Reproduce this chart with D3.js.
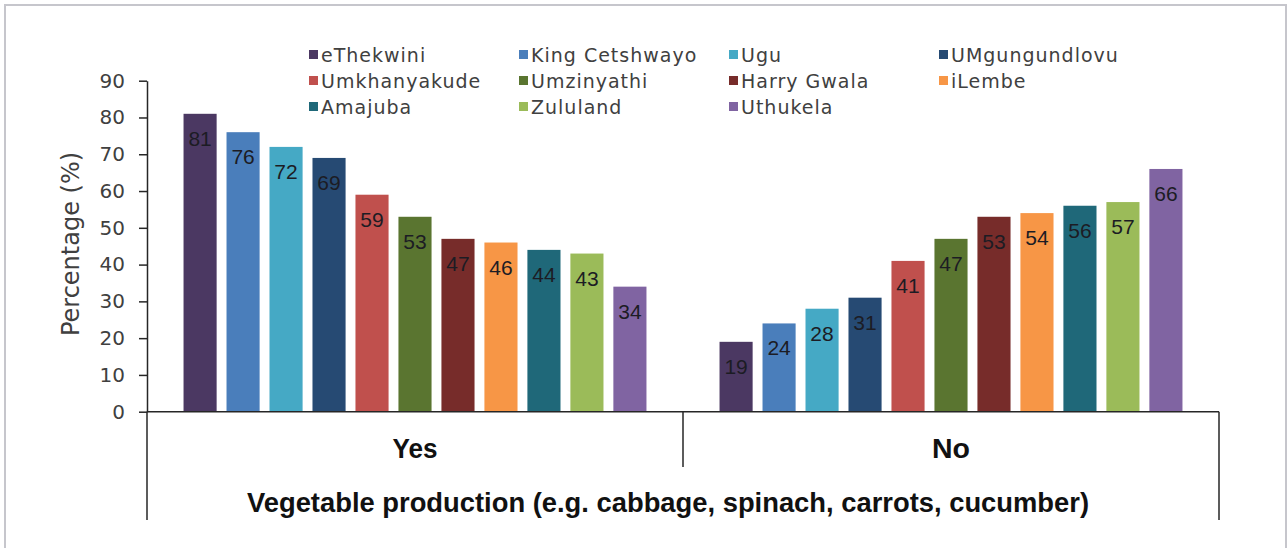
<!DOCTYPE html>
<html>
<head>
<meta charset="utf-8">
<script src="https://cdn.jsdelivr.net/npm/d3@7"></script>
<style>
  body { margin: 0; background: #fff; }
  svg { display: block; }
</style>
</head>
<body>
<div id="chart"></div>
<script>
// data
const groups = ['Yes', 'No'];
const districts = ['eThekwini', 'King Cetshwayo', 'Ugu', 'UMgungundlovu', 'Umkhanyakude', 'Umzinyathi',
  'Harry Gwala', 'iLembe', 'Amajuba', 'Zululand', 'Uthukela'];
const yesValues = [81, 76, 72, 69, 59, 53, 47, 46, 44, 43, 34];
const noValues = [19, 24, 28, 31, 41, 47, 53, 54, 56, 57, 66];
const yTicks = [0, 10, 20, 30, 40, 50, 60, 70, 80, 90];
const colors = ['#4b3862', '#4a7ebb', '#45a9c5', '#264a73', '#c0504d', '#5a7530',
  '#772c2a', '#f79646', '#1f6879', '#9bbb59', '#8064a2'];

const width = 1287, height = 548;
const plot = { left: 147, right: 1219, top: 80.7, bottom: 411.7 };

const svg = d3.select('#chart').append('svg')
  .attr('width', width)
  .attr('height', height);

// outer frame (light grey border, open at the bottom)
svg.append('path')
  .attr('d', `M5,${height} V5 H1286 V${height}`)
  .attr('fill', 'none')
  .attr('stroke', '#c6c6cc')
  .attr('stroke-width', 2);

// scales
const x0 = d3.scaleBand().domain(groups).range([plot.left, plot.right]).padding(0);
const x1 = d3.scaleBand().domain(districts).range([0, x0.bandwidth()])
  .paddingInner(0.23).paddingOuter(0.85);
const y = d3.scaleLinear().domain([0, 90]).range([plot.bottom, plot.top]);
const color = d3.scaleOrdinal().domain(districts).range(colors);

const rows = [];
groups.forEach((g, gi) => {
  const vals = gi === 0 ? yesValues : noValues;
  districts.forEach((d, i) => rows.push({ group: g, district: d, value: vals[i] }));
});

// bars
svg.append('g')
  .selectAll('rect')
  .data(rows)
  .enter()
  .append('rect')
  .attr('x', d => x0(d.group) + x1(d.district))
  .attr('y', d => y(d.value))
  .attr('width', x1.bandwidth())
  .attr('height', d => y(0) - y(d.value))
  .attr('fill', d => color(d.district));

// value labels inside top of bars
svg.append('g')
  .selectAll('text')
  .data(rows)
  .enter()
  .append('text')
  .attr('x', d => x0(d.group) + x1(d.district) + x1.bandwidth() / 2)
  .attr('y', d => y(d.value) + 32)
  .attr('text-anchor', 'middle')
  .attr('font-family', 'Liberation Sans, Arial, sans-serif')
  .attr('font-size', '21px')
  .attr('fill', '#1c1c24')
  .text(d => d.value);

// y axis
const yAxis = svg.append('g')
  .attr('transform', `translate(${plot.left},0)`)
  .call(d3.axisLeft(y).tickValues(yTicks).tickSize(8).tickSizeOuter(0).tickPadding(14));
yAxis.select('.domain').attr('stroke', '#262626').attr('stroke-width', 1.5);
yAxis.selectAll('.tick line').attr('stroke', '#262626').attr('stroke-width', 1.5);
yAxis.selectAll('.tick text')
  .attr('font-family', 'DejaVu Sans, sans-serif')
  .attr('font-size', '20px')
  .attr('fill', '#404040');

// x axis baseline and category dividers
const axisColor = '#262626';
svg.append('line')
  .attr('x1', plot.left).attr('x2', plot.right)
  .attr('y1', y(0)).attr('y2', y(0))
  .attr('stroke', axisColor).attr('stroke-width', 1.5);
svg.append('line')
  .attr('x1', plot.left).attr('x2', plot.left)
  .attr('y1', y(0)).attr('y2', 520)
  .attr('stroke', axisColor).attr('stroke-width', 1.5);
svg.append('line')
  .attr('x1', plot.right).attr('x2', plot.right)
  .attr('y1', y(0)).attr('y2', 520)
  .attr('stroke', axisColor).attr('stroke-width', 1.5);
svg.append('line')
  .attr('x1', x0('No')).attr('x2', x0('No'))
  .attr('y1', y(0)).attr('y2', 467)
  .attr('stroke', axisColor).attr('stroke-width', 1.5);

// group labels
svg.append('g')
  .selectAll('text')
  .data(groups)
  .enter()
  .append('text')
  .attr('x', d => x0(d) + x0.bandwidth() / 2)
  .attr('y', 458)
  .attr('text-anchor', 'middle')
  .attr('font-family', 'Liberation Sans, Arial, sans-serif')
  .attr('font-weight', 'bold')
  .attr('font-size', '28px')
  .attr('textLength', d => d === 'Yes' ? 45 : 38)
  .attr('lengthAdjust', 'spacingAndGlyphs')
  .attr('fill', '#111')
  .text(d => d);

// x axis title
svg.append('text')
  .attr('x', 668)
  .attr('y', 512)
  .attr('text-anchor', 'middle')
  .attr('font-family', 'Liberation Sans, Arial, sans-serif')
  .attr('font-weight', 'bold')
  .attr('font-size', '28px')
  .attr('textLength', 842)
  .attr('lengthAdjust', 'spacingAndGlyphs')
  .attr('fill', '#111')
  .text('Vegetable production (e.g. cabbage, spinach, carrots, cucumber)');

// y axis title
svg.append('text')
  .attr('transform', 'translate(79, 244) rotate(-90)')
  .attr('text-anchor', 'middle')
  .attr('font-family', 'DejaVu Sans, sans-serif')
  .attr('font-size', '24px')
  .attr('fill', '#404040')
  .text('Percentage (%)');

// legend: 4 columns, 3 rows
const legendX = [309, 519, 729, 939];
const legendY = [55, 81, 107];
const legend = svg.append('g')
  .selectAll('g')
  .data(districts)
  .enter()
  .append('g')
  .attr('transform', (d, i) => `translate(${legendX[i % 4]},${legendY[Math.floor(i / 4)]})`);
legend.append('rect')
  .attr('x', 0).attr('y', -5)
  .attr('width', 9).attr('height', 9)
  .attr('fill', d => color(d));
legend.append('text')
  .attr('x', 12)
  .attr('y', 7)
  .attr('font-family', 'DejaVu Sans, sans-serif')
  .attr('font-size', '19px')
  .attr('letter-spacing', '1px')
  .attr('fill', '#404040')
  .text(d => d);
</script>
</body>
</html>
